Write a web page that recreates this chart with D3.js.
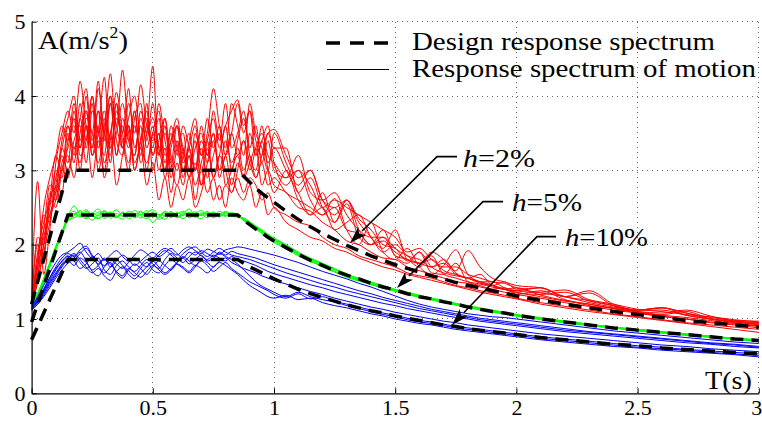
<!DOCTYPE html>
<html><head><meta charset="utf-8">
<script src="https://cdn.jsdelivr.net/npm/d3@7"></script>
<style>
body{margin:0;background:#fff}
svg{display:block}
</style>
</head><body>
<svg id="c" width="762" height="421"></svg>
<script>
// ---------------- data ----------------
const xTicks = [0, 0.5, 1, 1.5, 2, 2.5, 3];
const xTickLabels = ["0", "0.5", "1", "1.5", "2", "2.5", "3"];
const yTicks = [0, 1, 2, 3, 4, 5];
const yTickLabels = ["0", "1", "2", "3", "4", "5"];

const periods = [0,0.025,0.05,0.075,0.1,0.125,0.15,0.175,0.2,0.225,0.25,0.275,0.3,0.325,0.35,0.375,0.4,0.425,0.45,0.475,0.5,0.525,0.55,0.575,0.6,0.625,0.65,0.675,0.7,0.725,0.75,0.775,0.8,0.825,0.85,0.875,0.9,0.925,0.95,0.975,1.0,1.05,1.1,1.15,1.2,1.25,1.3,1.35,1.4,1.45,1.5,1.55,1.6,1.65,1.7,1.75,1.8,1.85,1.9,1.95,2.0,2.1,2.2,2.3,2.4,2.5,2.6,2.7,2.8,2.9,3.0];

const designT = [0,0.15,0.85,0.875,0.9,0.925,0.95,0.975,1.0,1.05,1.1,1.15,1.2,1.25,1.3,1.35,1.4,1.45,1.5,1.55,1.6,1.65,1.7,1.75,1.8,1.85,1.9,1.95,2.0,2.1,2.2,2.3,2.4,2.5,2.6,2.7,2.8,2.9,3.0];
const designH2 = [1.2,3.0,3.0,2.92,2.84,2.76,2.69,2.63,2.57,2.45,2.34,2.24,2.15,2.07,1.99,1.92,1.85,1.79,1.73,1.68,1.63,1.58,1.54,1.49,1.45,1.42,1.38,1.35,1.31,1.25,1.20,1.15,1.10,1.06,1.02,0.98,0.95,0.92,0.89];
const designH5 = [0.96,2.4,2.4,2.33,2.27,2.21,2.16,2.10,2.05,1.96,1.87,1.79,1.72,1.65,1.59,1.54,1.48,1.43,1.39,1.34,1.30,1.27,1.23,1.20,1.16,1.13,1.10,1.08,1.05,1.00,0.96,0.92,0.88,0.85,0.82,0.79,0.76,0.73,0.71];
const designH10 = [0.72,1.8,1.8,1.75,1.70,1.66,1.62,1.58,1.54,1.47,1.40,1.34,1.29,1.24,1.19,1.15,1.11,1.08,1.04,1.01,0.98,0.95,0.92,0.90,0.87,0.85,0.83,0.81,0.79,0.75,0.72,0.69,0.66,0.64,0.61,0.59,0.57,0.55,0.53];

// response spectra of motions, h = 2%
const motionH2 = [
 [1.22,1.9,2.3,2.6,2.9,3.3,3.6, 3.2,3.9,3.4,4.0,3.3,3.7,3.1,3.8,3.5,4.1,3.3,3.6,3.0,3.5,3.2,3.7,3.0,3.4,2.9,3.3,3.0,3.6,3.2,3.8,3.4,3.9,3.3, 3.5,3.8,3.3,3.6,3.1,3.4,3.0, 2.9,3.2,2.7,2.6,2.7,2.4,2.2,2.1,2.1,1.95,1.85,1.8,1.7,1.75,1.6,1.55,1.5,1.5,1.42,1.38, 1.35,1.3,1.22,1.16,1.12,1.12,1.05,1.0,0.96,0.93],
 [1.2,2.1,2.0,2.7,2.6,3.1,3.3, 3.7,3.0,3.6,3.5,4.2,3.4,3.9,3.2,3.6,3.3,3.8,3.1,3.5,4.4,3.2,3.6,2.9,3.3,3.5,3.0,3.4,2.8,3.1,3.5,2.9,3.2,2.8, 3.1,2.9,3.5,3.2,3.6,3.0,2.7, 3.0,2.6,2.4,2.7,2.3,2.55,2.1,2.0,2.2,1.85,1.8,1.7,1.85,1.6,1.55,1.5,1.47,1.43,1.4,1.36, 1.3,1.24,1.2,1.14,1.08,1.04,1.0,0.95,0.92,0.88],
 [1.25,2.85,1.6,2.2,2.8,2.7,3.4, 3.6,3.3,4.0,3.2,3.5,4.25,3.3,3.7,3.4,3.0,3.7,3.9,3.3,3.6,3.0,3.3,2.7,3.1,2.8,3.2,2.6,3.0,2.7,2.9,2.6,2.8,2.7, 2.9,2.7,2.9,2.8,2.6,2.7,2.5, 2.4,2.3,2.25,2.1,2.0,1.95,1.85,1.8,1.75,1.7,1.62,1.58,1.55,1.5,1.45,1.42,1.38,1.35,1.32,1.28, 1.22,1.17,1.12,1.07,1.03,0.99,0.95,0.92,0.89,0.86],
 [1.2,1.7,2.1,2.5,3.0,2.9,3.5, 3.1,3.7,3.3,3.9,3.0,3.5,4.3,3.4,3.2,3.6,3.1,3.4,3.8,3.2,3.5,3.0,3.6,3.3,3.0,3.4,3.7,3.2,3.5,4.1,3.6,3.3,3.9, 3.6,3.2,3.9,3.5,3.3,3.0,3.5, 3.1,2.8,3.0,2.6,2.4,2.6,2.3,2.1,1.9,2.0,1.85,1.75,1.9,1.8,1.65,1.92,1.7,1.55,1.5,1.45, 1.42,1.3,1.25,1.18,1.12,1.15,1.05,1.0,0.97,0.95],
 [1.18,1.6,2.0,2.4,2.7,3.2,3.0, 3.4,3.6,3.1,3.8,3.5,3.2,3.9,3.6,4.35,3.5,3.2,3.7,3.4,3.9,3.3,3.5,3.2,3.0,3.3,2.9,3.1,2.8,3.3,2.9,3.2,3.0,2.7, 3.0,3.4,3.1,2.9,3.2,3.5,3.3, 3.3,2.7,2.9,2.5,2.3,2.6,2.2,2.0,2.1,1.85,1.75,1.9,1.62,1.6,1.75,1.5,1.45,1.4,1.42,1.33, 1.38,1.26,1.18,1.12,1.08,1.03,1.0,0.96,0.93,0.9],
 [1.22,1.8,2.2,2.4,2.6,3.0,2.9, 3.3,3.1,3.6,2.9,3.4,3.0,3.5,2.8,3.2,3.6,3.0,3.3,2.8,3.1,2.6,2.9,2.5,2.8,2.6,2.9,2.5,2.7,3.0,2.6,2.8,2.5,2.9, 2.7,2.6,2.8,2.5,2.7,2.4,2.5, 2.3,2.2,2.1,2.05,1.95,1.9,1.82,1.76,1.7,1.66,1.6,1.56,1.52,1.48,1.44,1.4,1.36,1.33,1.3,1.27, 1.2,1.15,1.1,1.06,1.02,0.98,0.94,0.9,0.86,0.82],
 [1.2,1.5,1.9,2.3,2.8,3.4,3.7, 4.0,3.4,3.8,3.3,4.1,3.5,3.2,3.9,3.3,3.7,4.0,3.4,3.1,3.5,3.8,3.2,3.4,3.6,3.1,3.3,3.6,3.0,3.4,3.7,3.3,3.6,3.8, 3.95,3.6,3.8,3.4,3.2,3.5,3.55, 3.2,2.9,3.0,2.6,2.5,2.6,2.35,2.2,2.0,1.95,1.78,1.9,1.7,1.62,1.58,1.55,1.48,1.45,1.4,1.38, 1.42,1.3,1.38,1.2,1.12,1.15,1.08,1.02,0.98,0.97],
 [1.25,1.7,2.4,2.3,3.1,3.5,3.8, 3.5,4.2,3.6,3.3,3.8,3.5,4.0,3.6,3.3,3.9,3.5,4.15,3.6,3.4,3.7,3.1,3.5,3.2,3.6,3.3,3.0,3.4,3.2,3.5,3.0,3.4,3.1, 3.3,3.0,3.2,2.9,3.1,2.8,2.9, 2.7,2.6,2.5,2.4,2.5,2.2,2.15,2.0,2.05,1.9,1.8,1.75,1.8,1.65,1.6,1.55,1.5,1.46,1.4,1.35, 1.33,1.36,1.24,1.18,1.1,1.06,1.1,1.0,0.95,0.9],
 [1.2,2.0,1.8,2.6,2.5,3.0,3.2, 2.9,3.5,3.8,3.2,3.6,2.9,3.4,4.05,3.5,3.1,3.6,3.3,3.9,3.0,3.4,3.7,3.1,2.8,3.2,3.5,3.0,3.3,2.9,3.2,3.5,2.8,3.0, 3.2,2.9,3.1,3.3,2.8,3.0,2.8, 2.7,2.5,2.45,2.3,2.2,2.05,2.0,1.9,1.82,1.8,1.7,1.65,1.6,1.55,1.5,1.48,1.43,1.4,1.36,1.33, 1.28,1.22,1.17,1.15,1.09,1.05,1.02,0.98,0.94,0.91],
 [1.22,1.6,2.2,2.8,2.7,3.3,3.1, 3.8,3.2,3.4,4.0,3.5,3.8,3.3,3.5,3.9,3.4,3.2,3.8,3.5,3.7,3.3,3.0,3.4,3.7,3.2,3.0,3.3,3.5,3.1,3.4,3.0,3.2,3.5, 3.2,3.4,3.0,3.3,3.5,3.2,3.1, 2.9,3.0,2.8,2.5,2.6,2.5,2.4,2.3,2.2,2.1,1.9,1.95,1.8,1.7,1.7,1.6,1.55,1.5,1.48,1.42, 1.36,1.39,1.26,1.2,1.13,1.1,1.06,1.03,0.99,0.96],
 [1.2,1.8,2.5,2.9,3.2,3.6,3.4, 3.9,3.3,3.7,3.5,3.1,3.6,4.0,3.2,3.7,3.4,3.8,3.2,3.6,3.3,3.9,3.4,3.1,3.6,3.3,2.9,3.5,3.2,3.7,3.3,3.6,3.2,3.5, 3.9,3.5,3.8,3.2,3.4,3.6,3.1, 2.8,3.0,2.6,2.4,2.62,2.2,2.0,2.3,1.9,1.8,1.95,1.7,1.6,1.72,1.93,1.6,1.5,1.45,1.5,1.4, 1.42,1.3,1.35,1.18,1.12,1.15,1.08,1.0,0.96,0.92],
 [1.23,1.5,2.0,2.6,3.2,3.0,3.6, 3.3,3.7,4.1,3.4,3.8,3.1,3.5,3.9,3.3,3.6,3.0,3.4,3.7,3.2,3.5,2.9,3.3,3.6,3.0,3.2,2.8,3.1,3.4,2.9,3.2,3.6,3.0, 3.4,3.7,3.2,3.0,3.4,3.1,3.3, 3.0,2.7,2.4,2.5,2.2,2.3,2.4,2.1,1.95,2.2,1.8,1.75,1.7,1.8,1.62,1.55,1.6,1.45,1.4,1.42, 1.32,1.25,1.2,1.14,1.1,1.08,1.12,1.04,0.97,0.94]
];

// h = 5%
const motionH5 = [
 [1.2,1.32,1.52,1.74,1.96,2.16,2.36, 2.42,2.38,2.45,2.40,2.36,2.44,2.41,2.38,2.43,2.40,2.46,2.39,2.35,2.42,2.40,2.44,2.38,2.41,2.45,2.40,2.37,2.43,2.41,2.44,2.39,2.42,2.40, 2.38,2.33,2.28,2.22,2.17,2.12,2.06, 1.97,1.88,1.80,1.73,1.66,1.60,1.54,1.49,1.44,1.39,1.35,1.31,1.27,1.24,1.20,1.17,1.14,1.11,1.08,1.05, 1.01,0.96,0.92,0.89,0.85,0.82,0.79,0.76,0.74,0.71],
 [1.22,1.28,1.48,1.70,1.93,2.14,2.33, 2.38,2.46,2.36,2.42,2.48,2.37,2.43,2.39,2.34,2.41,2.37,2.44,2.40,2.30,2.38,2.42,2.36,2.44,2.39,2.43,2.38,2.40,2.45,2.38,2.42,2.39,2.41, 2.40,2.34,2.29,2.23,2.18,2.11,2.07, 1.98,1.86,1.79,1.71,1.64,1.58,1.53,1.47,1.43,1.38,1.34,1.30,1.26,1.23,1.19,1.16,1.13,1.10,1.07,1.05, 1.00,0.96,0.92,0.88,0.85,0.82,0.79,0.76,0.73,0.70],
 [1.18,1.35,1.55,1.76,1.98,2.18,2.38, 2.52,2.40,2.35,2.43,2.39,2.46,2.35,2.42,2.38,2.45,2.41,2.36,2.43,2.47,2.39,2.34,2.41,2.38,2.43,2.36,2.42,2.46,2.39,2.41,2.37,2.44,2.42, 2.39,2.35,2.30,2.24,2.19,2.13,2.08, 1.99,1.89,1.81,1.74,1.67,1.61,1.53,1.48,1.42,1.38,1.35,1.31,1.28,1.24,1.21,1.17,1.14,1.11,1.09,1.06, 1.01,0.97,0.93,0.89,0.86,0.83,0.80,0.77,0.74,0.72],
 [1.21,1.30,1.50,1.72,1.95,2.15,2.34, 2.40,2.44,2.39,2.33,2.41,2.45,2.40,2.36,2.44,2.38,2.42,2.40,2.46,2.37,2.41,2.39,2.45,2.36,2.40,2.43,2.38,2.41,2.36,2.43,2.40,2.45,2.39, 2.41,2.32,2.27,2.21,2.15,2.09,2.03, 1.95,1.87,1.78,1.70,1.63,1.57,1.52,1.46,1.42,1.37,1.33,1.29,1.26,1.22,1.19,1.15,1.12,1.09,1.07,1.04, 0.99,0.95,0.91,0.88,0.84,0.81,0.78,0.75,0.73,0.70],
 [1.2,1.34,1.53,1.75,1.97,2.17,2.37, 2.45,2.37,2.43,2.38,2.44,2.35,2.41,2.47,2.39,2.43,2.36,2.41,2.38,2.44,2.36,2.45,2.40,2.37,2.42,2.48,2.38,2.35,2.42,2.39,2.45,2.40,2.38, 2.37,2.36,2.31,2.25,2.20,2.14,2.09, 2.00,1.90,1.82,1.75,1.68,1.60,1.55,1.50,1.45,1.40,1.36,1.32,1.28,1.25,1.21,1.18,1.15,1.12,1.09,1.06, 1.02,0.97,0.93,0.89,0.86,0.83,0.80,0.77,0.74,0.72],
 [1.19,1.29,1.49,1.71,1.94,2.13,2.32, 2.36,2.41,2.47,2.39,2.35,2.40,2.44,2.37,2.42,2.35,2.40,2.45,2.37,2.42,2.34,2.39,2.43,2.40,2.35,2.41,2.44,2.39,2.43,2.36,2.41,2.38,2.43, 2.40,2.34,2.28,2.22,2.15,2.11,2.05, 1.94,1.85,1.77,1.72,1.64,1.56,1.51,1.47,1.41,1.38,1.33,1.30,1.26,1.22,1.19,1.16,1.13,1.10,1.07,1.04, 1.00,0.95,0.91,0.88,0.84,0.81,0.78,0.76,0.73,0.70]
];

// h = 10%
const motionH10 = [
 [1.15,1.30,1.45,1.62,1.76,1.86,1.90, 1.96,2.02,1.90,1.82,1.88,1.79,1.86,1.92,1.84,1.78,1.86,1.93,1.88,1.82,1.90,1.95,1.91,1.86,1.93,1.97,1.92,1.88,1.94,1.91,1.87,1.93,1.95, 1.97,1.96,1.94,1.92,1.90,1.88,1.86, 1.81,1.76,1.70,1.64,1.59,1.54,1.48,1.43,1.37,1.31,1.25,1.20,1.16,1.13,1.10,1.07,1.05,1.03,1.02,1.00, 0.96,0.92,0.88,0.84,0.81,0.78,0.75,0.72,0.69,0.67],
 [1.12,1.25,1.38,1.52,1.66,1.78,1.85, 1.80,1.88,1.95,1.84,1.74,1.82,1.70,1.78,1.86,1.80,1.72,1.78,1.85,1.90,1.84,1.89,1.95,1.88,1.82,1.90,1.86,1.92,1.88,1.84,1.90,1.86,1.91, 1.88,1.86,1.84,1.82,1.79,1.76,1.73, 1.68,1.63,1.58,1.53,1.48,1.43,1.38,1.34,1.29,1.25,1.21,1.17,1.13,1.10,1.07,1.04,1.01,0.99,0.97,0.95, 0.91,0.87,0.83,0.80,0.77,0.74,0.71,0.68,0.66,0.63],
 [1.16,1.22,1.34,1.48,1.60,1.72,1.80, 1.86,1.76,1.68,1.74,1.82,1.66,1.60,1.72,1.78,1.70,1.64,1.72,1.80,1.74,1.68,1.80,1.88,1.82,1.76,1.84,1.90,1.85,1.80,1.86,1.82,1.78,1.84, 1.80,1.78,1.75,1.72,1.68,1.64,1.61, 1.56,1.51,1.46,1.42,1.37,1.33,1.29,1.25,1.21,1.18,1.14,1.11,1.08,1.05,1.02,1.00,0.97,0.95,0.93,0.91, 0.87,0.83,0.80,0.77,0.74,0.71,0.68,0.66,0.63,0.61],
 [1.13,1.20,1.30,1.42,1.55,1.66,1.75, 1.82,1.90,1.78,1.64,1.58,1.70,1.76,1.62,1.55,1.66,1.74,1.68,1.60,1.70,1.78,1.72,1.66,1.76,1.84,1.78,1.72,1.80,1.76,1.70,1.78,1.82,1.76, 1.72,1.68,1.65,1.62,1.58,1.55,1.52, 1.47,1.42,1.37,1.33,1.28,1.24,1.20,1.16,1.13,1.09,1.06,1.03,1.00,0.97,0.95,0.92,0.90,0.88,0.86,0.84, 0.80,0.77,0.74,0.71,0.68,0.65,0.63,0.60,0.58,0.56],
 [1.17,1.28,1.40,1.55,1.68,1.77,1.84, 1.78,1.68,1.74,1.84,1.72,1.62,1.70,1.80,1.72,1.65,1.58,1.68,1.76,1.66,1.62,1.72,1.80,1.74,1.68,1.62,1.70,1.78,1.72,1.64,1.70,1.76,1.68, 1.62,1.56,1.50,1.46,1.42,1.38,1.33, 1.28,1.34,1.27,1.30,1.24,1.20,1.16,1.12,1.08,1.05,1.01,0.98,0.96,0.93,0.90,0.88,0.86,0.84,0.82,0.80, 0.76,0.73,0.70,0.67,0.64,0.62,0.59,0.57,0.55,0.53],
 [1.14,1.23,1.36,1.50,1.62,1.74,1.82, 1.88,1.80,1.70,1.62,1.68,1.58,1.52,1.64,1.70,1.60,1.54,1.62,1.70,1.78,1.70,1.62,1.68,1.76,1.82,1.74,1.80,1.86,1.78,1.82,1.88,1.84,1.80, 1.74,1.66,1.58,1.50,1.44,1.40,1.36, 1.30,1.36,1.30,1.26,1.23,1.18,1.14,1.10,1.06,1.03,0.99,0.96,0.94,0.91,0.88,0.86,0.84,0.82,0.80,0.78, 0.74,0.71,0.68,0.65,0.62,0.60,0.58,0.55,0.53,0.51],
 [1.12,1.20,1.32,1.45,1.58,1.70,1.78, 1.72,1.82,1.76,1.66,1.72,1.80,1.74,1.64,1.58,1.68,1.62,1.56,1.64,1.72,1.66,1.60,1.66,1.74,1.70,1.64,1.72,1.68,1.62,1.70,1.76,1.72,1.66, 1.60,1.52,1.45,1.40,1.35,1.30,1.28, 1.32,1.26,1.28,1.22,1.18,1.15,1.11,1.07,1.04,1.00,0.97,0.94,0.92,0.89,0.86,0.84,0.82,0.80,0.78,0.76, 0.72,0.69,0.66,0.63,0.61,0.58,0.56,0.54,0.52,0.49],
 [1.15,1.26,1.40,1.56,1.70,1.82,1.88, 1.84,1.93,1.98,1.86,1.78,1.72,1.80,1.74,1.68,1.76,1.82,1.76,1.70,1.78,1.86,1.92,1.86,1.80,1.88,1.94,1.97,1.90,1.84,1.90,1.95,1.90,1.86, 1.84,1.82,1.80,1.77,1.74,1.71,1.68, 1.62,1.57,1.52,1.47,1.43,1.38,1.34,1.30,1.26,1.22,1.18,1.14,1.11,1.08,1.05,1.02,0.99,0.97,0.95,0.93, 0.89,0.85,0.82,0.79,0.76,0.73,0.70,0.67,0.65,0.62]
];

const legendLabels = ["Design response spectrum", "Response spectrum of motion"];
const annoLabels = ["=2%", "=5%", "=10%"];
// annotation anchors in data units: arrow tip, elbow, label
const annoTipT = [1.3135, 1.5074, 1.7343];
const annoTipA = [2.023, 1.417, 0.919];
const annoElbowT = [1.6725, 1.8622, 2.0850];
const annoElbowA = [3.184, 2.579, 2.108];
const annoEndT = [1.755, 1.945, 2.1634];
const annoTextT = [1.780, 1.982, 2.2005];
const annoTextA = [3.046, 2.453, 1.982];
const annoTextLen = [72, 70, 83];

// ---------------- drawing ----------------
const FONT = "'Liberation Serif','Times New Roman',Times,serif";
const svg = d3.select("#c");
const x = d3.scaleLinear().domain([0, 3]).range([31.6, 758.8]);
const y = d3.scaleLinear().domain([0, 5]).range([393.3, 21.7]);

// grid
const grid = svg.append("g").attr("stroke", "#666").attr("stroke-width", 1)
  .attr("stroke-dasharray", "1,4").attr("shape-rendering", "crispEdges");
grid.selectAll("line.gv").data(xTicks.filter(d => d > 0)).join("line").attr("class", "gv")
  .attr("x1", d => x(d)).attr("x2", d => x(d)).attr("y1", y(0)).attr("y2", y(5));
grid.selectAll("line.gh").data(yTicks.filter(d => d > 0)).join("line").attr("class", "gh")
  .attr("y1", d => y(d)).attr("y2", d => y(d)).attr("x1", x(0)).attr("x2", x(3));

// motion spectra
const mline = d3.line().x((d, i) => x(periods[i])).y(d => y(d)).curve(d3.curveMonotoneX);
const groups = [[motionH2, "#ff0000"], [motionH5, "#00ff00"], [motionH10, "#0000ff"]];
groups.forEach(([set, col]) => {
  svg.append("g").selectAll("path").data(set).join("path")
    .attr("d", mline).attr("fill", "none").attr("stroke", col).attr("stroke-width", 1);
});

// design spectra
const dline = d3.line().x((d, i) => x(designT[i])).y(d => y(d));
svg.append("g").selectAll("path").data([designH2, designH5, designH10]).join("path")
  .attr("d", dline).attr("fill", "none").attr("stroke", "#000").attr("stroke-width", 3.5)
  .attr("stroke-dasharray", "13,8");

// axes
const yAxis = d3.axisLeft(y).tickValues(yTicks).tickFormat((d, i) => yTickLabels[i])
  .tickSizeInner(-5).tickSizeOuter(0).tickPadding(6);
const gy = svg.append("g").attr("transform", `translate(${x(0)},0)`).call(yAxis);
const xAxis = d3.axisBottom(x).tickValues(xTicks).tickFormat((d, i) => xTickLabels[i])
  .tickSizeInner(-5).tickSizeOuter(0);
const gx = svg.append("g").attr("transform", `translate(0,${y(0)})`).call(xAxis);
[gx, gy].forEach(g => {
  g.attr("font-family", FONT).attr("font-size", 22);
  g.select(".domain").attr("stroke", "#000").attr("stroke-width", 1.2);
  g.selectAll(".tick line").attr("stroke", "#000");
  g.selectAll(".tick text").attr("fill", "#000");
});
gx.selectAll(".tick text").attr("y", 22).attr("dy", 0);
gx.selectAll(".tick").filter(d => d === 3).select("text").attr("text-anchor", "end").attr("x", 3);

// axis titles
const yt = svg.append("text").attr("x", 38).attr("y", 49).attr("font-family", FONT)
  .attr("font-size", 26).attr("textLength", 90).attr("lengthAdjust", "spacingAndGlyphs");
yt.append("tspan").text("A(m/s");
yt.append("tspan").attr("font-size", 16).attr("dy", -11).text("2");
yt.append("tspan").attr("dy", 11).text(")");
svg.append("text").attr("x", 705).attr("y", 389).attr("font-family", FONT)
  .attr("font-size", 26).attr("textLength", 47).attr("lengthAdjust", "spacingAndGlyphs").text("T(s)");

// legend
svg.append("line").attr("x1", 326).attr("x2", 388).attr("y1", 43).attr("y2", 43)
  .attr("stroke", "#000").attr("stroke-width", 3.5).attr("stroke-dasharray", "14,10");
svg.append("line").attr("x1", 327).attr("x2", 389).attr("y1", 69.5).attr("y2", 69.5)
  .attr("stroke", "#000").attr("stroke-width", 1);
const legLen = [303, 344];
svg.append("g").selectAll("text").data(legendLabels).join("text")
  .attr("x", 412).attr("y", (d, i) => 50 + i * 27).attr("font-family", FONT).attr("font-size", 26)
  .attr("textLength", (d, i) => legLen[i]).attr("lengthAdjust", "spacingAndGlyphs").text(d => d);

// annotations
const anno = svg.append("g");
annoLabels.forEach((lab, i) => {
  const tx = x(annoTipT[i]), ty = y(annoTipA[i]);
  const ex = x(annoElbowT[i]), ey = y(annoElbowA[i]);
  const fx = x(annoEndT[i]);
  const dx = ex - tx, dy = ey - ty, L = Math.hypot(dx, dy);
  const ux = dx / L, uy = dy / L, hl = 17, hw = 5.5;
  const bx = tx + ux * hl, by = ty + uy * hl;
  anno.append("path").attr("d", `M${fx},${ey}L${ex},${ey}L${bx},${by}`)
    .attr("fill", "none").attr("stroke", "#000").attr("stroke-width", 1.6);
  anno.append("path")
    .attr("d", `M${tx},${ty}L${bx - uy * hw},${by + ux * hw}L${tx + ux * (hl - 4)},${ty + uy * (hl - 4)}L${bx + uy * hw},${by - ux * hw}Z`)
    .attr("fill", "#000");
  const t = anno.append("text").attr("x", x(annoTextT[i])).attr("y", y(annoTextA[i]))
    .attr("font-family", FONT).attr("font-size", 26)
    .attr("textLength", annoTextLen[i]).attr("lengthAdjust", "spacingAndGlyphs");
  t.append("tspan").attr("font-style", "italic").text("h");
  t.append("tspan").text(lab);
});
</script>
</body></html>
